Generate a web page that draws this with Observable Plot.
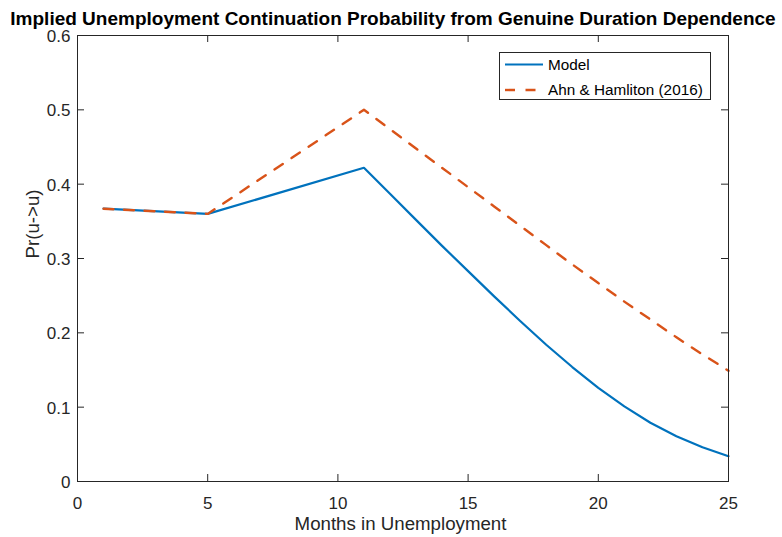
<!DOCTYPE html>
<html>
<head>
<meta charset="utf-8">
<script src="https://cdn.jsdelivr.net/npm/d3@7"></script>
<script src="https://cdn.jsdelivr.net/npm/@observablehq/plot@0.6"></script>
<style>
  body { margin: 0; background: #fff; }
  #chart { position: relative; width: 782px; height: 537px; font-family: "Liberation Sans", Arial, Helvetica, sans-serif; color: #262626; }
</style>
</head>
<body>
<div id="chart"></div>
<script>
// Months at which each series is evaluated
const monthsModel = [1, 5, 11, 12, 13, 14, 15, 16, 17, 18, 19, 20, 21, 22, 23, 24, 25];
const monthsAH    = [1, 5, 11, 12, 13, 14, 15, 16, 17, 18, 19, 20, 21, 22, 23, 24, 25];

// Implied continuation probability Pr(u->u)
const probModel = [0.367, 0.360, 0.422, 0.387, 0.352, 0.317, 0.283, 0.249, 0.216, 0.184, 0.154, 0.126, 0.101, 0.079, 0.061, 0.046, 0.034];
const probAH    = [0.367, 0.360, 0.500, 0.474, 0.448, 0.422, 0.396, 0.370, 0.344, 0.318, 0.292, 0.267, 0.242, 0.218, 0.194, 0.171, 0.149];

const seriesNames = ["Model", "Ahn & Hamliton (2016)"];
const seriesColors = ["#0072BD", "#D95319"];

const xTicks = [0, 5, 10, 15, 20, 25];
const yTicks = [0, 0.1, 0.2, 0.3, 0.4, 0.5, 0.6];
const yTickLabels = ["0", "0.1", "0.2", "0.3", "0.4", "0.5", "0.6"];

const titleText = "Implied Unemployment Continuation Probability from Genuine Duration Dependence";
const xLabel = "Months in Unemployment";
const yLabel = "Pr(u->u)";

const W = 782, H = 537;
const mt = 35, mr = 54, mb = 56, ml = 77;
const fw = W - ml - mr, fh = H - mt - mb;
const tickLen = 7;
const ink = "#262626";

const modelData = monthsModel.map((m, i) => ({month: m, p: probModel[i]}));
const ahData = monthsAH.map((m, i) => ({month: m, p: probAH[i]}));

const chart = Plot.plot({
  width: W,
  height: H,
  marginTop: mt,
  marginRight: mr,
  marginBottom: mb,
  marginLeft: ml,
  x: {domain: [0, 25], axis: null},
  y: {domain: [0, 0.6], axis: null},
  style: {fontFamily: "'Liberation Sans', Arial, Helvetica, sans-serif", color: ink, background: "#fff", position: "absolute", left: "0px", top: "0px"},
  marks: [
    // series
    Plot.line(modelData, {x: "month", y: "p", stroke: seriesColors[0], strokeWidth: 2.2}),
    Plot.line(ahData, {x: "month", y: "p", stroke: seriesColors[1], strokeWidth: 2.4, strokeDasharray: "10,10.5"}),
    // box and inward ticks on all four sides
    Plot.frame({stroke: ink, strokeWidth: 1}),
    Plot.tickX(xTicks, {x: d => d, insetTop: fh - tickLen, stroke: ink, strokeWidth: 1}),
    Plot.tickX(xTicks, {x: d => d, insetBottom: fh - tickLen, stroke: ink, strokeWidth: 1}),
    Plot.tickY(yTicks, {y: d => d, insetRight: fw - tickLen, stroke: ink, strokeWidth: 1}),
    Plot.tickY(yTicks, {y: d => d, insetLeft: fw - tickLen, stroke: ink, strokeWidth: 1}),
    // tick labels
    Plot.text(xTicks, {x: d => d, text: d => String(d), frameAnchor: "bottom", lineAnchor: "bottom", dy: 27, fontSize: 17, fill: ink}),
    Plot.text(yTicks, {y: d => d, text: (d, i) => yTickLabels[i], frameAnchor: "left", textAnchor: "end", lineAnchor: "middle", dx: -7, dy: 1, fontSize: 17, fill: ink}),
    // axis labels and title
    Plot.text([xLabel], {text: d => d, frameAnchor: "bottom", lineAnchor: "bottom", dy: 48, dx: -2.5, fontSize: 18.7, fill: ink}),
    Plot.text([yLabel], {text: d => d, frameAnchor: "left", rotate: -90, lineAnchor: "middle", dx: -44, fontSize: 18.7, fill: ink}),
    Plot.text([titleText], {text: d => d, frameAnchor: "top", lineAnchor: "bottom", dy: -11, dx: -10, fontSize: 19, fontWeight: "bold", fill: "#000"})
  ]
});

const root = document.getElementById("chart");
root.appendChild(chart);

// legend box in the upper right of the axes
const lw = 212, lh = 48;
const legend = d3.create("svg")
  .attr("width", lw + 1)
  .attr("height", lh + 1)
  .style("position", "absolute")
  .style("left", "499px")
  .style("top", "52px");
legend.append("rect")
  .attr("x", 0.5).attr("y", 0.5)
  .attr("width", lw - 1).attr("height", lh - 1)
  .attr("fill", "#fff").attr("stroke", ink).attr("stroke-width", 1);
const rows = [12.5, 38];
seriesNames.forEach((name, i) => {
  legend.append("line")
    .attr("x1", 6).attr("x2", 44)
    .attr("y1", rows[i]).attr("y2", rows[i])
    .attr("stroke", seriesColors[i])
    .attr("stroke-width", i === 0 ? 2.2 : 2.4)
    .attr("stroke-dasharray", i === 0 ? null : "10,10.5");
  legend.append("text")
    .attr("x", 49).attr("y", rows[i])
    .attr("dy", "0.35em")
    .attr("font-size", 15.3)
    .attr("font-family", "'Liberation Sans', Arial, Helvetica, sans-serif")
    .attr("fill", "#000")
    .text(name);
});
root.appendChild(legend.node());
</script>
</body>
</html>
